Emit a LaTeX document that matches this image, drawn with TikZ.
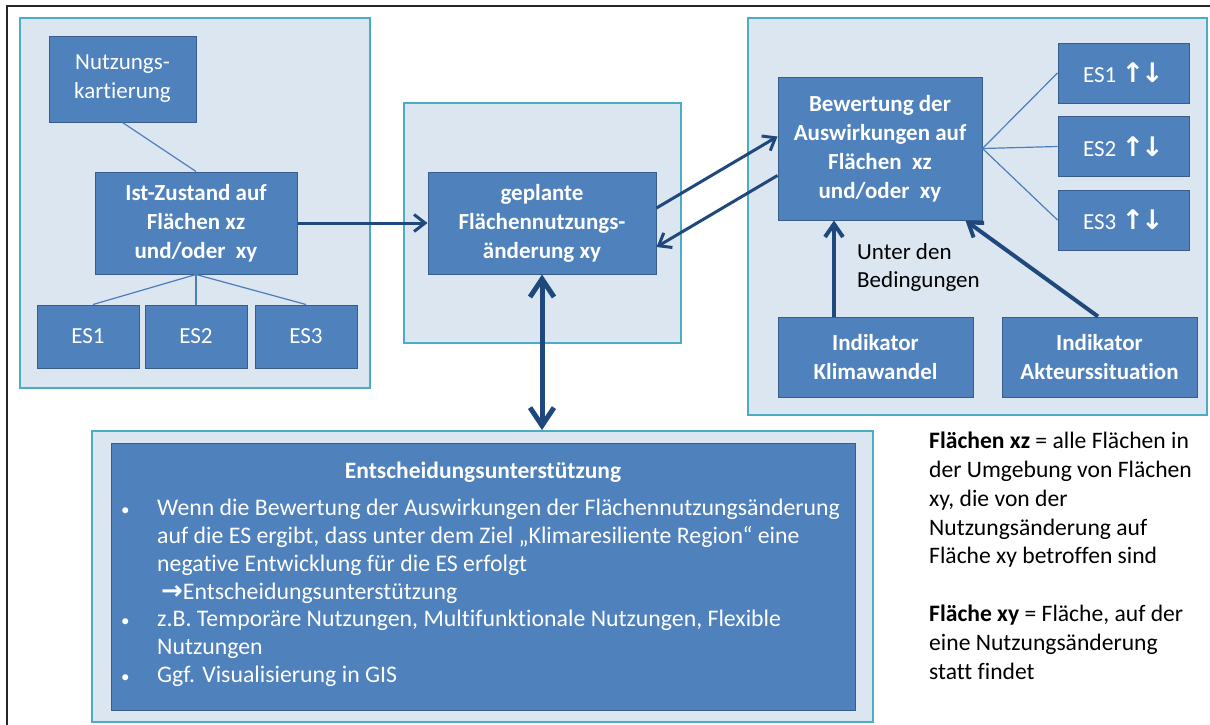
\documentclass[tikz,border=0pt]{standalone}
\usepackage{fontspec}
\setmainfont{Carlito}[Ligatures=NoCommon]
\newfontfamily\symfont{DejaVu Sans}
\usetikzlibrary{arrows.meta,calc}

\definecolor{boxblue}{HTML}{4F81BD}
\definecolor{boxedge}{HTML}{385D8A}
\definecolor{panel}{HTML}{DCE6F1}
\definecolor{panedge}{HTML}{4BACC6}
\definecolor{navy}{HTML}{1F497D}
\definecolor{thinline}{HTML}{4A7EBB}

\newcommand\updown{{\fontsize{27}{29}\symfont\bfseries ↑\kern-3pt↓}}
\newcommand\smallbullet{\makebox[37pt][l]{\hspace{1pt}{\fontsize{17}{17}\selectfont •}}}

\begin{document}
\begin{tikzpicture}[x=1pt,y=-1pt,
  panelbox/.style={draw=panedge, fill=panel, line width=1.8pt, inner sep=0pt},
  bluebox/.style={draw=boxedge, fill=boxblue, line width=1pt, text=white,
    align=center, inner sep=0pt, font=\fontsize{23}{29}\selectfont},
  boldbox/.style={bluebox, font=\fontsize{23}{29}\selectfont\bfseries},
  thin/.style={draw=thinline, line width=1.2pt},
  flow/.style={draw=navy, line width=3pt, -{Straight Barb[length=11pt,width=17pt,line width=3pt]}},
  flowthick/.style={draw=navy, line width=4pt, -{Straight Barb[length=13pt,width=18pt,line width=4pt]}},
  both/.style={draw=navy, line width=5pt, {Straight Barb[length=18pt,width=24pt,line width=5pt]}-{Straight Barb[length=18pt,width=24pt,line width=5pt]}},
  plain/.style={inner sep=0pt, align=left, font=\fontsize{23.6}{28.8}\selectfont}
]
\useasboundingbox (0,0) rectangle (1210,724);
\fill[white] (0,0) rectangle (1210,724);
% frame
\draw[line width=2pt, black!85] (7,6) rectangle (1230,744);

% panels
\node[panelbox, minimum width=350pt, minimum height=370pt] (pa) at (195,203) {};
\node[panelbox, minimum width=277pt, minimum height=240pt] (pb) at (542.5,223) {};
\node[panelbox, minimum width=459pt, minimum height=397pt] (pc) at (977.5,216.5) {};
\node[panelbox, minimum width=781pt, minimum height=291pt] (pd) at (482.5,576.5) {};

% left panel: current state
\node[bluebox, minimum width=147pt, minimum height=86pt] (nutz) at (122.5,79) {Nutzungs-\\kartierung};
\node[boldbox, minimum width=202pt, minimum height=102pt] (ist) at (196,223) {Ist-Zustand auf\\Flächen xz\\und/oder\ \ xy};
\node[bluebox, minimum width=102pt, minimum height=63pt] (esa) at (88,336.5) {ES1};
\node[bluebox, minimum width=102pt, minimum height=63pt] (esb) at (196,336.5) {ES2};
\node[bluebox, minimum width=102pt, minimum height=63pt] (esc) at (306,336.5) {ES3};

% middle panel: planned change
\node[boldbox, minimum width=228pt, minimum height=102pt] (plan) at (542,223) {geplante\\Flächennutzungs-\\änderung xy};

% right panel: assessment
\node[boldbox, minimum width=204pt, minimum height=143pt] (bew) at (880,148.5) {Bewertung der\\Auswirkungen auf\\Flächen\ \ xz\\und/oder\ \ xy};
\node[bluebox, minimum width=131pt, minimum height=60pt] (esd) at (1123.5,73) {ES1 \updown};
\node[bluebox, minimum width=131pt, minimum height=60pt] (ese) at (1123.5,146.5) {ES2 \updown};
\node[bluebox, minimum width=131pt, minimum height=60pt] (esf) at (1123.5,220) {ES3 \updown};
\node[boldbox, minimum width=195pt, minimum height=80pt] (klima) at (875.5,357) {Indikator\\Klimawandel};
\node[boldbox, minimum width=195pt, minimum height=80pt] (akteur) at (1099.5,357) {Indikator\\Akteurssituation};
\node[plain, anchor=north west, font=\fontsize{23}{28.5}\selectfont] (cond) at (857,243) {Unter den\\Bedingungen};

% decision support box
\node[bluebox, minimum width=744pt, minimum height=267pt] (ent) at (483,576.5) {};
\node[inner sep=0pt, text=white, font=\fontsize{23.5}{28}\selectfont\bfseries] (enttitle) at (483,472) {Entscheidungsunterstützung};
\node[inner sep=0pt, text=white, align=left, anchor=north west, font=\fontsize{23.8}{27.8}\selectfont] (entlist) at (120,499)
{\smallbullet Wenn die Bewertung der Auswirkungen der Flächennutzungsänderung\\
 \hspace*{37pt}auf die ES ergibt, dass unter dem Ziel „Klimaresiliente Region“ eine\\
 \hspace*{37pt}negative Entwicklung für die ES erfolgt\\
 \hspace*{41pt}{\fontsize{26}{28}\symfont\bfseries →}Entscheidungsunterstützung\\
 \smallbullet z.B. Temporäre Nutzungen, Multifunktionale Nutzungen, Flexible\\
 \hspace*{37pt}Nutzungen\\
 \smallbullet Ggf. Visualisierung in GIS};

% legend
\node[plain, anchor=north west] (notes) at (929,432)
{\textbf{Flächen xz} = alle Flächen in\\der Umgebung von Flächen\\xy, die von der\\Nutzungsänderung auf\\Fläche xy betroffen sind\\[28.8pt]\textbf{Fläche xy} = Fläche, auf der\\eine Nutzungsänderung\\statt findet};

% thin links
\draw[thin] (nutz.south) -- (ist.north);
\draw[thin] (ist.south) -- ([xshift=5pt]esa.north);
\draw[thin] (ist.south) -- (esb.north);
\draw[thin] (ist.south) -- (esc.north);
\draw[thin] (bew.east) -- (esd.west);
\draw[thin] (bew.east) -- (ese.west);
\draw[thin] (bew.east) -- (esf.west);

% flow arrows
\draw[flow] (ist.east) -- (plan.west);
\draw[flow] ([yshift=15pt]plan.east) -- ([yshift=12pt]bew.west);
\draw[flow] ([yshift=-27pt]bew.west) -- ([yshift=-24pt]plan.east);
\draw[flowthick] ([xshift=-41.5pt]klima.north) -- ([xshift=-46pt]bew.south);
\draw[flowthick] ([xshift=-1.5pt]akteur.north) -- ([xshift=-17pt]bew.south east);
\draw[both] (plan.south) -- (plan.south |- pd.north);
\end{tikzpicture}
\end{document}
